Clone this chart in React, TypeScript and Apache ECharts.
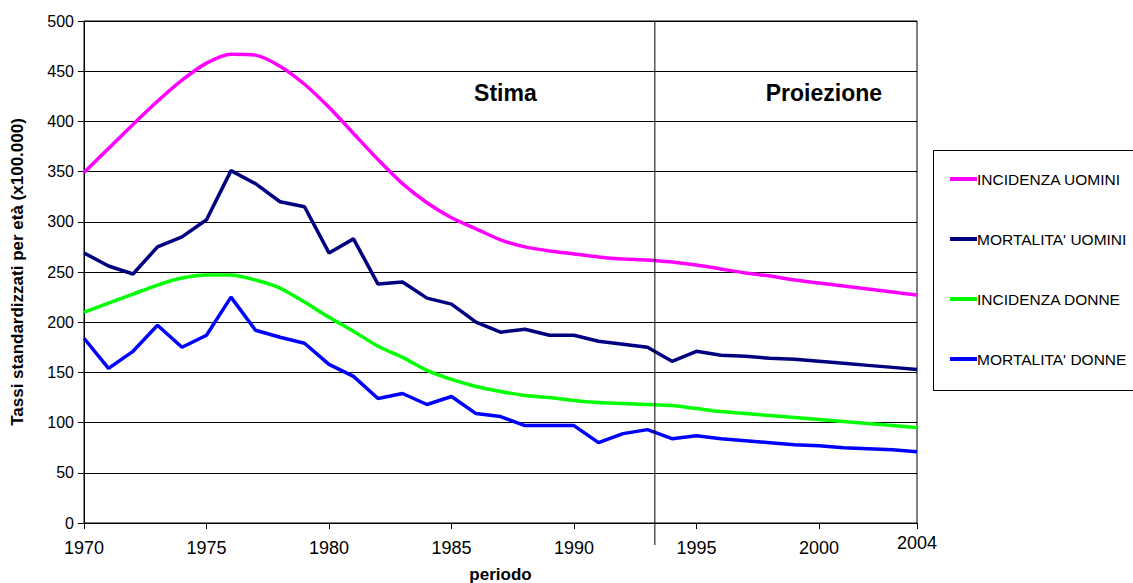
import React, { useEffect, useRef } from "react";
import * as echarts from "echarts";

const years = [1970, 1971, 1972, 1973, 1974, 1975, 1976, 1977, 1978, 1979, 1980, 1981, 1982, 1983, 1984, 1985, 1986, 1987, 1988, 1989, 1990, 1991, 1992, 1993, 1994, 1995, 1996, 1997, 1998, 1999, 2000, 2001, 2002, 2003, 2004];

const incidenzaUomini = [349, 373, 397, 420, 441, 458, 467, 466, 455, 437, 414, 388, 362, 338, 319, 304, 293, 282, 275, 271, 268, 265, 263, 262, 260, 257, 253, 249, 246, 242, 239, 236, 233, 230, 227];
const mortalitaUomini = [269, 256, 248, 275, 285, 302, 351, 338, 320, 315, 269, 283, 238, 240, 224, 218, 200, 190, 193, 187, 187, 181, 178, 175, 161, 171, 167, 166, 164, 163, 161, 159, 157, 155, 153];
const incidenzaDonne = [210, 219, 228, 237, 244, 247, 247, 242, 234, 220, 205, 191, 176, 165, 152, 143, 136, 131, 127, 125, 122, 120, 119, 118, 117, 114, 111, 109, 107, 105, 103, 101, 99, 97, 95];
const mortalitaDonne = [184, 154, 171, 197, 175, 187, 225, 192, 185, 179, 158, 146, 124, 129, 118, 126, 109, 106, 97, 97, 97, 80, 89, 93, 84, 87, 84, 82, 80, 78, 77, 75, 74, 73, 71];

const seriesNames = ["INCIDENZA UOMINI", "MORTALITA' UOMINI", "INCIDENZA DONNE", "MORTALITA' DONNE"];
const seriesColors = ["#FF00FF", "#000080", "#00FF00", "#0000FF"];
const seriesSmooth = [0.25, false, 0.25, false];
const seriesValues = [incidenzaUomini, mortalitaUomini, incidenzaDonne, mortalitaDonne];

const xTickValues = [1970, 1975, 1980, 1985, 1990, 1995, 2000, 2004];
const dividerYear = 1993.3;
const periodLabels = [
  { text: "Stima", x: 1987.2, y: 428 },
  { text: "Proiezione", x: 2000.2, y: 428 },
];

const FONT = "'Liberation Sans', Arial, sans-serif";

export default function App() {
  const ref = useRef<HTMLDivElement>(null);

  useEffect(() => {
    if (!ref.current) return;
    const chart = echarts.init(ref.current, undefined, { renderer: "svg" });
    chart.setOption({
      animation: false,
      backgroundColor: "#ffffff",
      grid: {
        left: 84,
        right: 216,
        top: 21,
        bottom: 60,
        outerBoundsMode: "none",
        containLabel: false,
        show: true,
        borderColor: "#000",
        borderWidth: 1,
        backgroundColor: "transparent",
      },
      legend: {
        orient: "vertical",
        left: 933,
        top: 150,
        padding: [21, 10, 23, 17],
        itemGap: 44,
        itemWidth: 27,
        itemHeight: 4,
        icon: "rect",
        borderWidth: 0,
        textStyle: { fontFamily: FONT, fontSize: 15.5, color: "#000", lineHeight: 16, padding: [0, 0, 0, -5] },
        data: seriesNames,
      },
      xAxis: {
        type: "value",
        min: 1970,
        max: 2004,
        interval: 5,
        name: "periodo",
        nameLocation: "middle",
        nameGap: 43,
        nameTextStyle: { fontFamily: FONT, fontSize: 17, fontWeight: "bold", color: "#000" },
        axisLine: { show: true, lineStyle: { color: "#000", width: 1 } },
        axisTick: { show: true, length: 6, customValues: xTickValues, lineStyle: { color: "#000" } },
        axisLabel: {
          customValues: xTickValues,
          fontFamily: FONT,
          fontSize: 18,
          color: "#000",
          margin: 16,
          formatter: (v: number) => (v === 2004 ? "{u|2004}" : String(v)),
          rich: { u: { fontFamily: FONT, fontSize: 18, color: "#000", lineHeight: 8 } },
        },
        splitLine: { show: false },
      },
      yAxis: {
        type: "value",
        min: 0,
        max: 500,
        interval: 50,
        name: "Tassi standardizzati per età (x100.000)",
        nameLocation: "middle",
        nameGap: 58,
        nameTextStyle: { fontFamily: FONT, fontSize: 17, fontWeight: "bold", color: "#000" },
        axisLine: { show: true, lineStyle: { color: "#000", width: 1 } },
        axisTick: { show: true, length: 6, lineStyle: { color: "#000" } },
        axisLabel: { fontFamily: FONT, fontSize: 16, color: "#000", margin: 10 },
        splitLine: { show: true, lineStyle: { color: "#000", width: 1 } },
      },
      series: seriesNames.map((name, i) => ({
        name,
        type: "line",
        data: years.map((y, j) => [y, seriesValues[i][j]]),
        showSymbol: false,
        symbol: "none",
        smooth: seriesSmooth[i],
        lineStyle: { color: seriesColors[i], width: 3.5 },
        itemStyle: { color: seriesColors[i] },
        z: 3,
      })),
    });

    const [divX, topY] = chart.convertToPixel({ gridIndex: 0 }, [dividerYear, 500]);
    const [, zeroY] = chart.convertToPixel({ gridIndex: 0 }, [dividerYear, 0]);
    const graphics: any[] = [
      {
        type: "line",
        shape: { x1: divX, y1: topY, x2: divX, y2: zeroY + 22 },
        style: { stroke: "#000", lineWidth: 1 },
        z: 10,
      },
      {
        type: "rect",
        shape: { x: 933.5, y: 150.5, width: 230, height: 240 },
        style: { fill: "none", stroke: "#000", lineWidth: 1 },
        z: 10,
      },
    ];
    periodLabels.forEach((p) => {
      const [px, py] = chart.convertToPixel({ gridIndex: 0 }, [p.x, p.y]);
      graphics.push({
        type: "text",
        x: px,
        y: py,
        style: {
          text: p.text,
          fontFamily: FONT,
          fontSize: 23,
          fontWeight: "bold",
          fill: "#000",
          align: "center",
          verticalAlign: "middle",
        },
        z: 10,
      });
    });
    chart.setOption({ graphic: graphics });

    return () => chart.dispose();
  }, []);

  return (
    <div
      ref={ref}
      style={{ position: "fixed", left: 0, top: 0, width: 1133, height: 583 }}
    />
  );
}
